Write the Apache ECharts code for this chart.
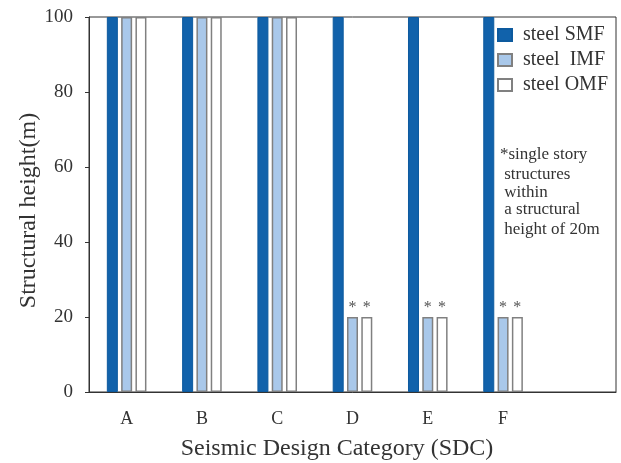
<!DOCTYPE html>
<html>
<head>
<meta charset="utf-8">
<script src="https://cdn.jsdelivr.net/npm/echarts@6/dist/echarts.min.js"></script>
<style>
  html, body { margin: 0; padding: 0; background: #fff; }
  #chart { width: 621px; height: 463px; }
</style>
</head>
<body>
<div id="chart"></div>
<script>
// Seismic design categories (last slot left empty for the note column)
const categories = ['A', 'B', 'C', 'D', 'E', 'F', ''];
// Maximum structural height (m) for each frame type
const smfHeights = [100, 100, 100, 100, 100, 100, null];
const imfHeights = [100, 100, 100, 20, 20, 20, null];
const omfHeights = [100, 100, 100, 20, 20, 20, null];
// Categories whose limits apply to single story structures only
const starredCategories = ['D', 'E', 'F'];
const yTicks = [0, 20, 40, 60, 80, 100];
const noteLines = ['*single story', ' structures', ' within', ' a structural', ' height of 20m'];

const serif = '"Liberation Serif", "Times New Roman", serif';
const axisColor = '#333';

function starred(values) {
  return values.map((v, i) => ({
    value: v,
    label: { show: starredCategories.includes(categories[i]) }
  }));
}

const starLabel = {
  position: 'top',
  distance: 1,
  formatter: '*',
  fontFamily: serif,
  fontSize: 16,
  color: '#555'
};

const chart = echarts.init(document.getElementById('chart'), null, { renderer: 'canvas' });

const noteY = [155, 175, 193, 210, 230];

chart.setOption({
  animation: false,
  backgroundColor: '#fff',
  grid: {
    left: 89, right: 5, top: 17, bottom: 71,
    show: true, borderColor: axisColor, borderWidth: 1, backgroundColor: 'transparent'
  },
  legend: {
    orient: 'vertical',
    left: 492, top: 20,
    icon: 'rect',
    itemWidth: 14, itemHeight: 12, itemGap: 5,
    textStyle: { fontFamily: serif, fontSize: 20, color: '#333', padding: [0, 0, 0, 6] },
    data: ['steel SMF', 'steel  IMF', 'steel OMF']
  },
  xAxis: {
    type: 'category',
    data: categories,
    axisLine: { lineStyle: { color: axisColor, width: 1 } },
    axisTick: { show: false },
    axisLabel: { fontFamily: serif, fontSize: 18, color: '#333', margin: 18 }
  },
  yAxis: {
    type: 'value',
    min: 0, max: 100, interval: 20,
    name: 'Structural height(m)',
    nameLocation: 'middle',
    nameGap: 48,
    nameMoveOverlap: false,
    nameTextStyle: { fontFamily: serif, fontSize: 24, color: '#333', padding: [0, 12, 0, 0] },
    axisLine: { show: true, lineStyle: { color: axisColor, width: 1 } },
    axisTick: { show: true, inside: false, length: 4, lineStyle: { color: axisColor } },
    axisLabel: {
      fontFamily: serif, fontSize: 19, color: '#333', margin: 16,
      formatter: v => (yTicks.includes(v) ? String(v) : '')
    },
    splitLine: { show: false }
  },
  series: [
    {
      name: 'steel SMF', type: 'bar', data: smfHeights,
      barWidth: 11, barGap: '30%',
      itemStyle: { color: '#1162ab', borderColor: '#0d5a9e', borderWidth: 1 }
    },
    {
      name: 'steel  IMF', type: 'bar', data: starred(imfHeights),
      barWidth: 11, barGap: '30%',
      itemStyle: { color: '#a9c8ea', borderColor: '#808080', borderWidth: 1.5 },
      label: starLabel
    },
    {
      name: 'steel OMF', type: 'bar', data: starred(omfHeights),
      barWidth: 11, barGap: '30%',
      itemStyle: { color: '#ffffff', borderColor: '#808080', borderWidth: 1.5 },
      label: starLabel
    }
  ],
  graphic: [
    {
      type: 'text', x: 337, y: 437,
      style: { text: 'Seismic Design Category (SDC)', font: '24px ' + serif, fill: '#333', textAlign: 'center' }
    }
  ].concat(noteLines.map((line, i) => ({
    type: 'text',
    x: 500, y: noteY[i],
    style: { text: line, font: '17px ' + serif, fill: '#333', textVerticalAlign: 'middle' }
  })))
});
</script>
</body>
</html>
